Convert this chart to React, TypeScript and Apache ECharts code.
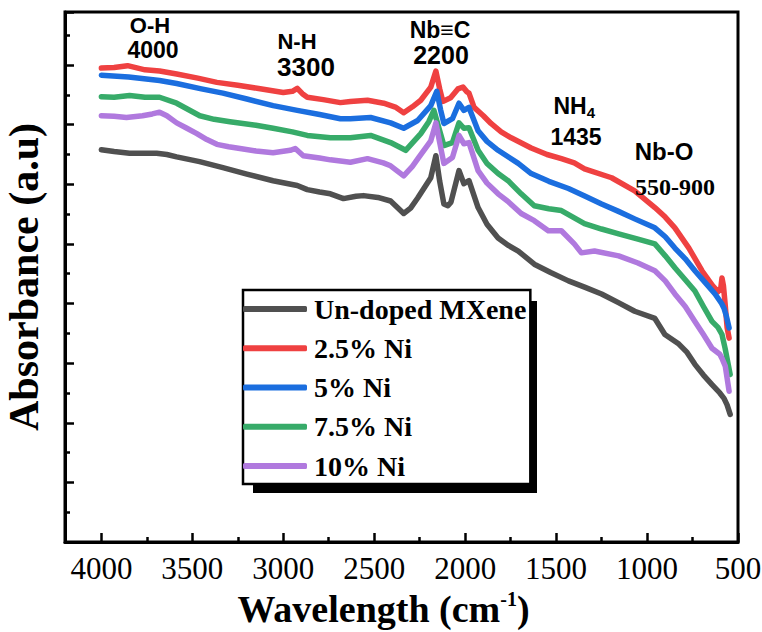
import React, { useEffect, useRef } from 'react';
import * as echarts from 'echarts';

const seriesNames = ['Un-doped MXene', '2.5% Ni', '5% Ni', '7.5% Ni', '10% Ni'];
const seriesColors = ['#505050', '#EF4141', '#1B6EDF', '#37AB69', '#B079DE'];

const undoped = [
  [4000, 6.58], [3930, 6.55], [3845, 6.52], [3696, 6.52], [3640, 6.5], [3586, 6.46], [3460, 6.38], [3332, 6.28],
  [3200, 6.17], [3056, 6.06], [2923, 5.98], [2868, 5.91], [2800, 5.87], [2741, 5.84], [2669, 5.76], [2600, 5.8],
  [2559, 5.81], [2480, 5.78], [2410, 5.72], [2338, 5.51], [2300, 5.6], [2261, 5.77], [2189, 6.11], [2161, 6.48],
  [2140, 6.05], [2117, 5.67], [2095, 5.64], [2078, 5.7], [2034, 6.23], [2007, 6.01], [1979, 6.06], [1929, 5.61], [1880, 5.33],
  [1819, 5.1], [1760, 4.97], [1708, 4.88], [1620, 4.66], [1530, 4.52], [1432, 4.38], [1340, 4.27], [1250, 4.16],
  [1160, 4.02], [1068, 3.87], [957, 3.75], [902, 3.48], [825, 3.32], [780, 3.18], [737, 2.98], [690, 2.8],
  [643, 2.64], [600, 2.5], [577, 2.41], [560, 2.3], [543, 2.14],
];

const ni25 = [
  [4000, 7.95], [3930, 7.96], [3856, 7.99], [3760, 7.92], [3680, 7.9], [3586, 7.85], [3470, 7.78], [3365, 7.71],
  [3250, 7.66], [3144, 7.61], [3000, 7.54], [2950, 7.56], [2923, 7.61], [2895, 7.52], [2868, 7.46], [2780, 7.42],
  [2686, 7.37], [2631, 7.39], [2537, 7.41], [2448, 7.36], [2380, 7.29], [2338, 7.2], [2290, 7.3], [2244, 7.41],
  [2189, 7.63], [2161, 7.9], [2140, 7.6], [2123, 7.39], [2080, 7.45], [2040, 7.6], [2012, 7.63], [1990, 7.55],
  [1979, 7.53], [1951, 7.29], [1900, 7.15], [1858, 7.02], [1802, 6.88], [1747, 6.78], [1637, 6.61], [1550, 6.5],
  [1471, 6.43], [1400, 6.36], [1344, 6.26], [1195, 6.11], [1068, 5.89], [957, 5.61], [900, 5.45], [847, 5.27],
  [770, 4.93], [698, 4.55], [640, 4.3], [610, 4.2], [595, 4.25], [588, 4.43], [580, 4.3], [571, 4.0],
  [560, 3.6], [549, 3.42],
];

const ni5 = [
  [4000, 7.83], [3850, 7.8], [3680, 7.74], [3586, 7.69], [3450, 7.6], [3332, 7.53], [3200, 7.43], [3056, 7.32],
  [2923, 7.24], [2800, 7.17], [2686, 7.1], [2631, 7.1], [2520, 7.12], [2410, 7.03], [2338, 6.94], [2261, 7.07],
  [2189, 7.32], [2156, 7.56], [2135, 7.25], [2117, 7.02], [2070, 7.1], [2034, 7.36], [2007, 7.24], [1979, 7.29],
  [1929, 6.9], [1880, 6.72], [1819, 6.57], [1708, 6.35], [1637, 6.18], [1540, 6.05], [1432, 5.93], [1340, 5.8],
  [1250, 5.67], [1160, 5.55], [1068, 5.42], [957, 5.27], [900, 5.12], [847, 4.93], [790, 4.75], [737, 4.55],
  [680, 4.35], [626, 4.16], [590, 4.0], [577, 3.92], [565, 3.8], [549, 3.59],
];

const ni75 = [
  [4000, 7.47], [3930, 7.46], [3845, 7.49], [3760, 7.46], [3680, 7.46], [3586, 7.36], [3520, 7.25], [3459, 7.15],
  [3380, 7.09], [3293, 7.05], [3150, 6.99], [3056, 6.94], [2950, 6.88], [2868, 6.82], [2741, 6.78], [2631, 6.78],
  [2520, 6.82], [2410, 6.7], [2327, 6.57], [2244, 6.85], [2200, 7.05], [2172, 7.24], [2140, 6.9], [2117, 6.65],
  [2070, 6.7], [2034, 7.03], [2007, 6.94], [1979, 6.95], [1929, 6.57], [1880, 6.35], [1819, 6.18], [1760, 6.05],
  [1692, 5.84], [1620, 5.64], [1540, 5.59], [1471, 5.56], [1344, 5.34], [1250, 5.25], [1156, 5.17], [1050, 5.08],
  [957, 5.0], [900, 4.8], [847, 4.6], [790, 4.4], [737, 4.21], [690, 3.95], [643, 3.7], [610, 3.6],
  [588, 3.48], [571, 3.25], [543, 2.81],
];

const ni10 = [
  [4000, 7.15], [3930, 7.14], [3862, 7.12], [3774, 7.15], [3720, 7.18], [3680, 7.21], [3640, 7.15], [3586, 7.03],
  [3530, 6.94], [3475, 6.85], [3420, 6.75], [3365, 6.67], [3300, 6.63], [3238, 6.6], [3150, 6.56], [3056, 6.53],
  [2962, 6.57], [2934, 6.6], [2890, 6.48], [2800, 6.44], [2741, 6.41], [2631, 6.37], [2537, 6.43], [2450, 6.36],
  [2410, 6.31], [2338, 6.14], [2290, 6.3], [2255, 6.45], [2189, 6.73], [2161, 7.03], [2140, 6.7], [2117, 6.35],
  [2070, 6.45], [2034, 6.82], [2007, 6.68], [1979, 6.7], [1929, 6.23], [1880, 6.02], [1819, 5.84], [1760, 5.7],
  [1692, 5.51], [1620, 5.39], [1543, 5.22], [1471, 5.22], [1400, 5.0], [1361, 4.85], [1289, 4.88], [1156, 4.8],
  [1050, 4.68], [957, 4.55], [900, 4.38], [847, 4.16], [790, 3.95], [737, 3.7], [690, 3.48], [643, 3.25],
  [600, 3.15], [588, 3.08], [570, 2.95], [549, 2.53],
];

const seriesData = [undoped, ni25, ni5, ni75, ni10];

const SERIF = 'Liberation Serif';
const SERIF_REG = 'Times New Roman, Liberation Serif, DejaVu Serif, serif';
const SANS = 'Liberation Sans, DejaVu Sans';

function annot(text: string, x: number, y: number, size: number, family = SANS) {
  return {
    type: 'text',
    x,
    y,
    z: 50,
    style: {
      text,
      fill: '#000',
      fontFamily: family,
      fontSize: size,
      fontWeight: 'bold',
      align: 'center',
      verticalAlign: 'middle',
    },
  };
}

export default function App() {
  const ref = useRef<HTMLDivElement>(null);
  useEffect(() => {
    const chart = echarts.init(ref.current!, null, { renderer: 'svg' });
    chart.setOption({
      animation: false,
      backgroundColor: '#fff',
      grid: {
        left: 65, right: 24, top: 12, bottom: 90,
        show: true, borderColor: '#000', borderWidth: 3, backgroundColor: 'transparent',
        containLabel: false, outerBoundsMode: 'none',
      },
      legend: {
        data: seriesNames,
        orient: 'vertical',
        left: 243,
        top: 290,
        padding: [4, 4, 3, 0],
        itemGap: 9.25,
        itemWidth: 64,
        itemHeight: 6,
        icon: 'roundRect',
        backgroundColor: '#fff',
        borderColor: '#000',
        borderWidth: 2.5,
        borderRadius: 0,
        z: 10,
        textStyle: { fontFamily: SERIF, fontWeight: 'bold', fontSize: 28, color: '#000', lineHeight: 30, padding: [0, 0, 0, 2] },
      },
      xAxis: {
        type: 'value',
        inverse: true,
        min: 500,
        max: 4200,
        interval: 500,
        axisLine: { show: true, lineStyle: { color: '#000', width: 3 } },
        axisTick: { show: true, inside: true, length: 9, lineStyle: { color: '#000', width: 2.5 } },
        minorTick: { show: true, splitNumber: 2, length: 5, lineStyle: { color: '#000', width: 2.5 } },
        splitLine: { show: false },
        minorSplitLine: { show: false },
        axisLabel: {
          margin: 11,
          fontFamily: SERIF_REG,
          fontStyle: 'normal',
          fontWeight: 400,
          fontSize: 31,
          color: '#000',
          formatter: (v: number) => (v % 500 === 0 ? String(v) : ''),
        },
        name: '{t|Wavelength (cm}{s|-1}{t|)}',
        nameLocation: 'middle',
        nameGap: 44,
        nameTextStyle: {
          padding: [0, 36, 0, 0],
          rich: {
            t: { fontFamily: SERIF, fontWeight: 'bold', fontSize: 38, color: '#000', lineHeight: 40 },
            s: { fontFamily: SERIF, fontWeight: 'bold', fontSize: 20, color: '#000', lineHeight: 20, verticalAlign: 'top' },
          },
        },
      },
      yAxis: {
        type: 'value',
        min: 0,
        max: 8.89,
        interval: 1,
        axisLine: { show: true, lineStyle: { color: '#000', width: 3 } },
        axisTick: { show: true, inside: true, length: 9, lineStyle: { color: '#000', width: 2.5 } },
        minorTick: { show: true, splitNumber: 2, length: 5, lineStyle: { color: '#000', width: 2.5 } },
        splitLine: { show: false },
        minorSplitLine: { show: false },
        axisLabel: { show: false },
        name: 'Absorbance (a.u)',
        nameLocation: 'middle',
        nameGap: 20,
        nameTextStyle: { fontFamily: SERIF, fontWeight: 'bold', fontSize: 42, color: '#000', lineHeight: 42 },
      },
      series: seriesNames.map((name, i) => ({
        name,
        type: 'line',
        data: seriesData[i],
        showSymbol: false,
        symbol: 'none',
        lineStyle: { width: 5.5, color: seriesColors[i], cap: 'round', join: 'round' },
        itemStyle: { color: seriesColors[i] },
        z: 3,
      })),
      graphic: [
        { type: 'rect', z: 5, shape: { x: 253, y: 301, width: 284, height: 192 }, style: { fill: '#000' } },
        annot('O-H', 150, 25, 22),
        annot('4000', 153, 50, 23),
        annot('N-H', 297, 41, 22),
        annot('3300', 306, 67, 26),
        annot('Nb\u2261C', 440, 29.5, 23),
        annot('2200', 441, 55, 25),
        annot('NH', 570, 106, 23),
        annot('4', 591, 112, 15),
        annot('1435', 576, 137, 23),
        annot('Nb-O', 664, 151, 24),
        annot('550-900', 675, 187, 24, 'Times New Roman, Liberation Serif, DejaVu Serif, serif'),
      ],
    });
    return () => chart.dispose();
  }, []);
  return (
    <div
      ref={ref}
      style={{ position: 'absolute', left: 0, top: 0, width: 762, height: 632, background: '#fff' }}
    />
  );
}
